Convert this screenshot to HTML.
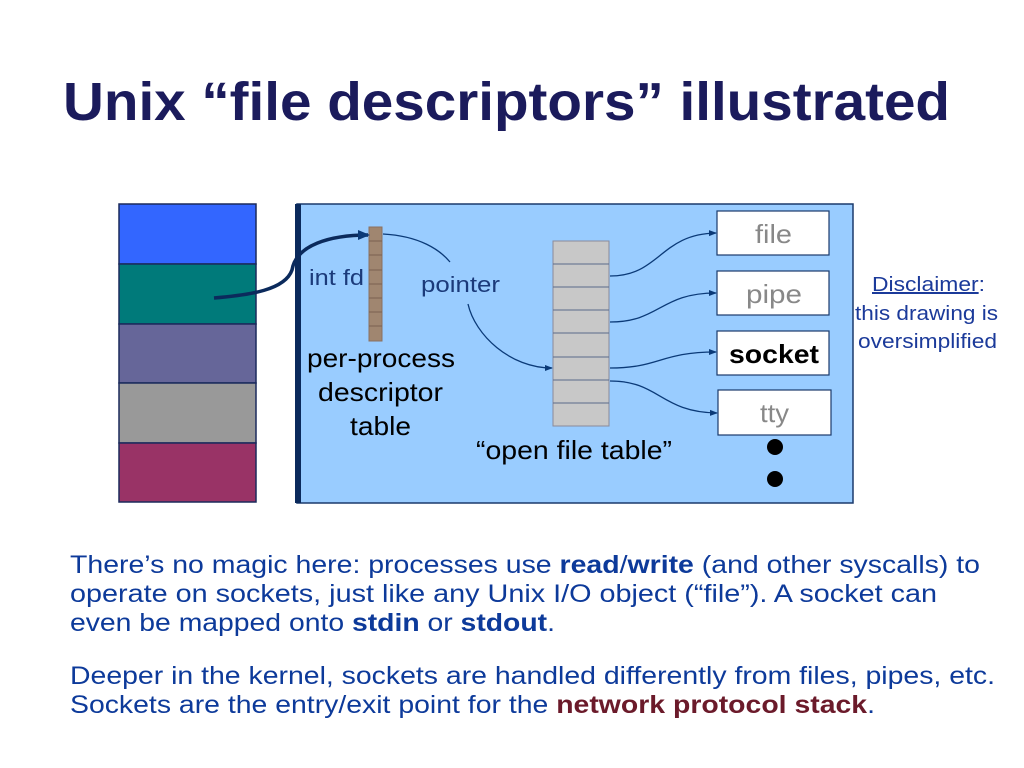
<!DOCTYPE html>
<html><head><meta charset="utf-8"><style>
body{margin:0;background:#fff;}
svg{display:block;}
text{font-family:"Liberation Sans",Arial,Helvetica,sans-serif;}
</style></head><body>
<svg width="1024" height="768" viewBox="0 0 1024 768" xmlns="http://www.w3.org/2000/svg">
<defs>
<marker id="a" markerWidth="8" markerHeight="8" refX="7" refY="4" orient="auto" markerUnits="userSpaceOnUse"><path d="M0,1 L8,4 L0,7 z" fill="#0b3a78"/></marker>
<marker id="b" markerWidth="12" markerHeight="10" refX="10" refY="5" orient="auto" markerUnits="userSpaceOnUse"><path d="M0,0 L12,5 L0,10 z" fill="#0b3a78"/></marker>
</defs>
<text x="63" y="120" font-size="54" font-weight="bold" fill="#1b1b5c" textLength="887" lengthAdjust="spacingAndGlyphs">Unix “file descriptors” illustrated</text>

<g stroke="#1b2a5c" stroke-width="1.5">
<rect x="119" y="204" width="137" height="60" fill="#3366ff"/>
<rect x="119" y="264" width="137" height="60" fill="#007a7a"/>
<rect x="119" y="324" width="137" height="59" fill="#666699"/>
<rect x="119" y="383" width="137" height="60" fill="#999999"/>
<rect x="119" y="443" width="137" height="59" fill="#993366"/>
</g>

<rect x="297" y="204" width="556" height="299" fill="#99ccff" stroke="#1b3a6c" stroke-width="1.5"/>
<rect x="295" y="204" width="6" height="299" fill="#0b2a5c"/>

<rect x="369" y="227" width="13" height="114" fill="#a08670" stroke="#8a7060"/>
<g stroke="#7a6050" stroke-width="1">
<line x1="369" y1="241" x2="382" y2="241"/><line x1="369" y1="255" x2="382" y2="255"/>
<line x1="369" y1="270" x2="382" y2="270"/><line x1="369" y1="284" x2="382" y2="284"/>
<line x1="369" y1="298" x2="382" y2="298"/><line x1="369" y1="312" x2="382" y2="312"/>
<line x1="369" y1="326" x2="382" y2="326"/>
</g>

<path d="M214,298 C250,295 285,290 292,270 C296,245 330,235 368,235" fill="none" stroke="#0b2a5c" stroke-width="3.5" marker-end="url(#b)"/>

<text x="309" y="285" font-size="22" fill="#1b3a7a" textLength="55" lengthAdjust="spacingAndGlyphs">int fd</text>
<text x="421" y="292" font-size="22" fill="#1b3a7a" textLength="79" lengthAdjust="spacingAndGlyphs">pointer</text>
<path d="M383,234 C420,236 440,250 450,262" fill="none" stroke="#0b3a78" stroke-width="1.3"/>
<path d="M468,304 C475,335 510,368 552,368" fill="none" stroke="#0b3a78" stroke-width="1.3" marker-end="url(#a)"/>

<g font-size="26" fill="#000">
<text x="307" y="367" textLength="148" lengthAdjust="spacingAndGlyphs">per-process</text>
<text x="318" y="401" textLength="125" lengthAdjust="spacingAndGlyphs">descriptor</text>
<text x="350" y="435" textLength="61" lengthAdjust="spacingAndGlyphs">table</text>
<text x="476" y="459" textLength="196" lengthAdjust="spacingAndGlyphs">“open file table”</text>
</g>

<rect x="553" y="241" width="56" height="185" fill="#c8c8c8" stroke="#8a8a9a" stroke-width="1"/>
<g stroke="#5a6a8a" stroke-width="1">
<line x1="553" y1="264" x2="609" y2="264"/><line x1="553" y1="287" x2="609" y2="287"/>
<line x1="553" y1="310" x2="609" y2="310"/><line x1="553" y1="333" x2="609" y2="333"/>
<line x1="553" y1="357" x2="609" y2="357"/><line x1="553" y1="380" x2="609" y2="380"/>
<line x1="553" y1="403" x2="609" y2="403"/>
</g>

<g fill="none" stroke="#0b3a78" stroke-width="1.3" marker-end="url(#a)">
<path d="M610,276 C660,276 660,234 716,233"/>
<path d="M610,322 C660,322 660,293 716,293"/>
<path d="M610,368 C660,368 660,352 716,352"/>
<path d="M610,381 C660,381 660,412 717,413"/>
</g>

<g stroke="#1b3a6c" stroke-width="1.2" fill="#fff">
<rect x="717" y="211" width="112" height="44"/>
<rect x="717" y="271" width="112" height="44"/>
<rect x="717" y="331" width="112" height="44"/>
<rect x="718" y="390" width="113" height="45"/>
</g>
<g font-size="26" fill="#888">
<text x="755" y="243" textLength="37" lengthAdjust="spacingAndGlyphs">file</text>
<text x="746" y="303" textLength="56" lengthAdjust="spacingAndGlyphs">pipe</text>
<text x="729" y="363" fill="#000" font-weight="bold" textLength="90" lengthAdjust="spacingAndGlyphs">socket</text>
<text x="760" y="422" textLength="29" lengthAdjust="spacingAndGlyphs">tty</text>
</g>
<circle cx="775" cy="447" r="8" fill="#000"/>
<circle cx="775" cy="479" r="8" fill="#000"/>

<g font-size="20" fill="#1b3a9a">
<text x="872" y="291" textLength="113" lengthAdjust="spacingAndGlyphs"><tspan text-decoration="underline">Disclaimer</tspan>:</text>
<text x="855" y="320" textLength="143" lengthAdjust="spacingAndGlyphs">this drawing is</text>
<text x="858" y="348" textLength="139" lengthAdjust="spacingAndGlyphs">oversimplified</text>
</g>

<g font-size="25" fill="#0d3a9a">
<text x="70" y="573" textLength="910" lengthAdjust="spacingAndGlyphs">There’s no magic here: processes use <tspan font-weight="bold">read</tspan>/<tspan font-weight="bold">write</tspan> (and other syscalls) to</text>
<text x="70" y="602" textLength="867" lengthAdjust="spacingAndGlyphs">operate on sockets, just like any Unix I/O object (“file”).  A socket can</text>
<text x="70" y="631" textLength="485" lengthAdjust="spacingAndGlyphs">even be mapped onto <tspan font-weight="bold">stdin</tspan> or <tspan font-weight="bold">stdout</tspan>.</text>
<text x="70" y="684" textLength="925" lengthAdjust="spacingAndGlyphs">Deeper in the kernel, sockets are handled differently from files, pipes, etc.</text>
<text x="70" y="713" textLength="805" lengthAdjust="spacingAndGlyphs">Sockets are the entry/exit point for the <tspan font-weight="bold" fill="#6b1a2a">network protocol stack</tspan>.</text>
</g>
</svg>
</body></html>
